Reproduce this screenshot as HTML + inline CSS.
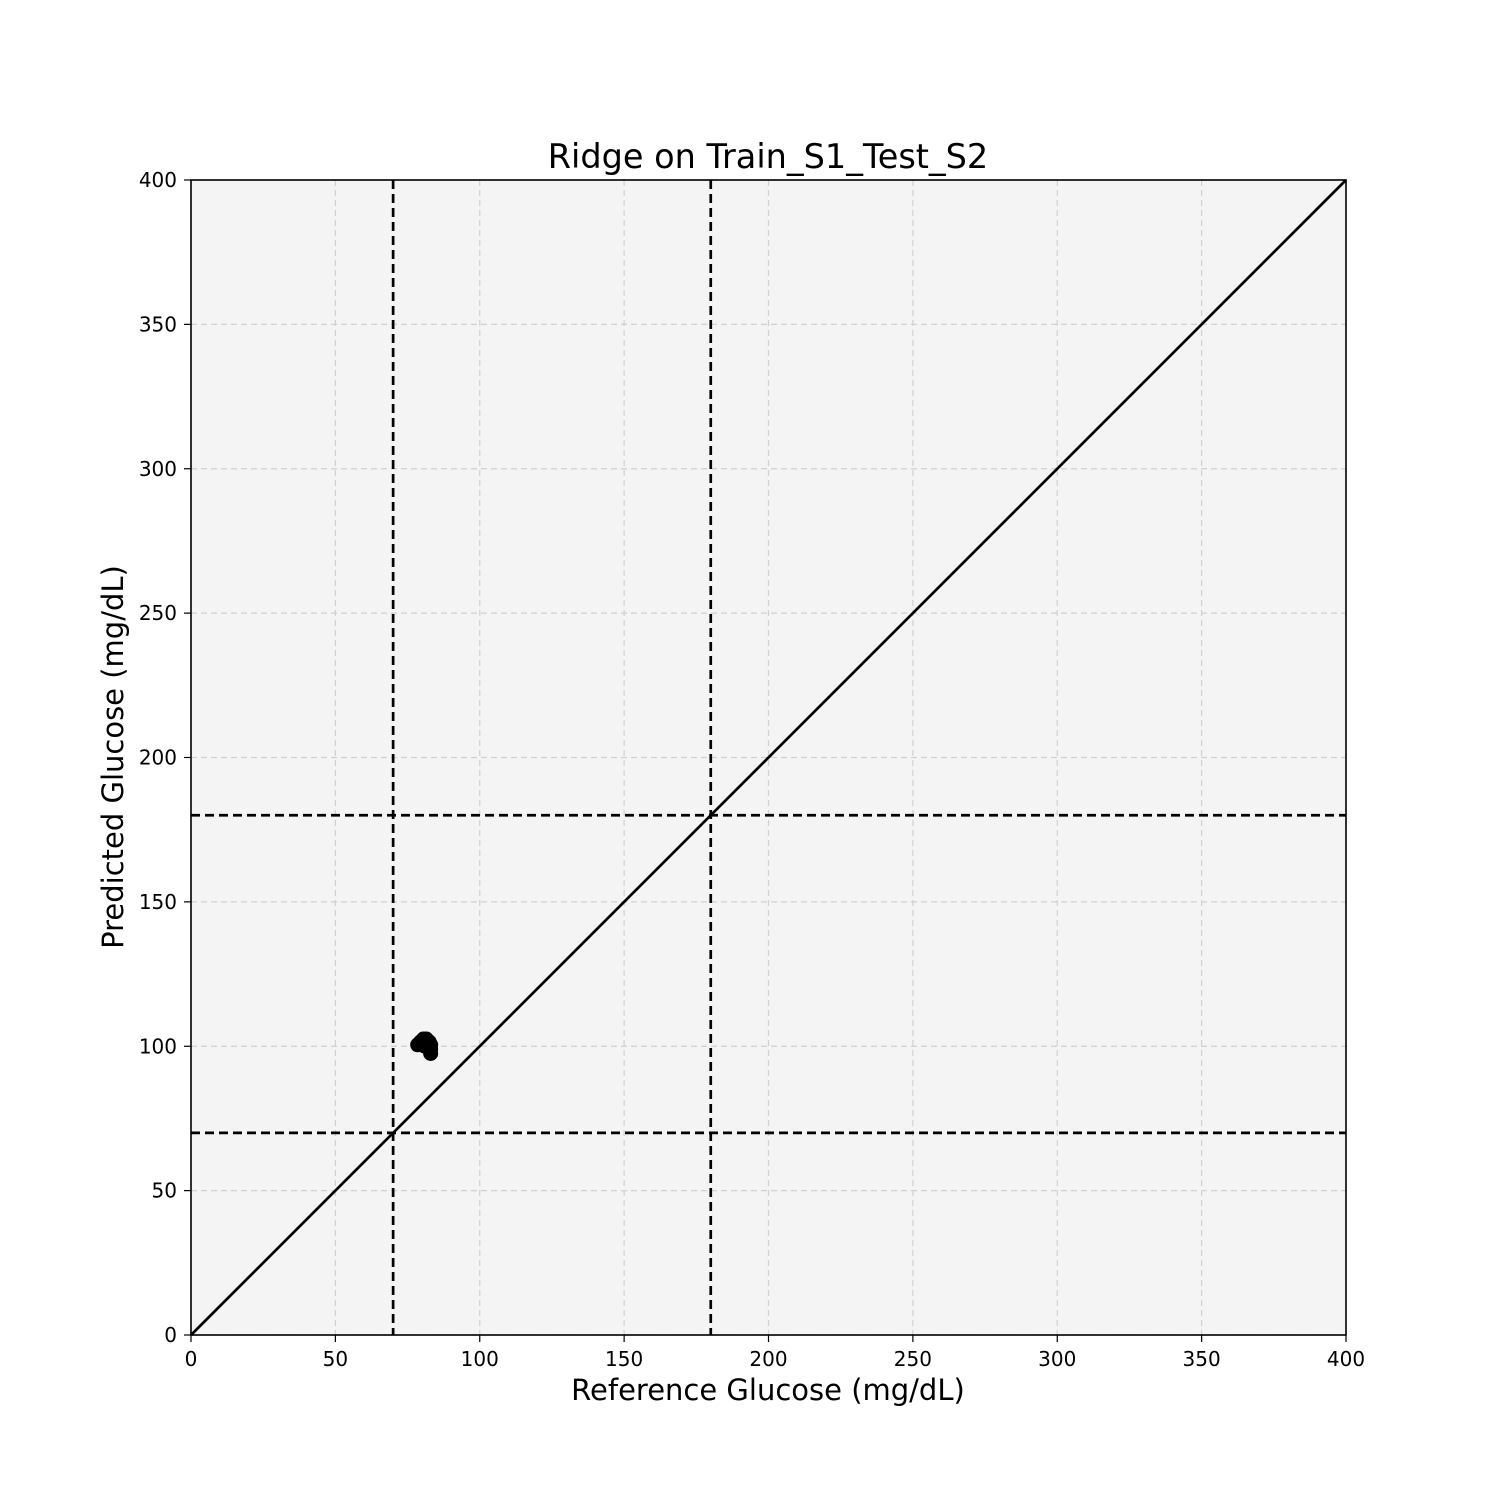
<!DOCTYPE html>
<html><head><meta charset="utf-8"><style>body{margin:0;background:#fff}svg{display:block}text{font-family:"DejaVu Sans","Liberation Sans",sans-serif}</style></head>
<body>
<svg id="chart" width="1500" height="1500" xmlns="http://www.w3.org/2000/svg">
<rect x="0" y="0" width="1500" height="1500" fill="#fff"/>
<rect x="191" y="180" width="1155" height="1155" fill="#f4f4f4"/>
<g id="grid"></g><g id="refs"></g><g id="pts"></g><g id="ticks"></g>
<rect x="191" y="180" width="1155" height="1155" fill="none" stroke="#000" stroke-width="1.6"/>
<text x="768" y="168" font-size="33.5" text-anchor="middle">Ridge on Train_S1_Test_S2</text>
<text x="768" y="1400" font-size="29" text-anchor="middle">Reference Glucose (mg/dL)</text>
<text x="0" y="0" font-size="29" text-anchor="middle" transform="translate(123,757) rotate(-90)">Predicted Glucose (mg/dL)</text>
</svg>
<script>
const xTicks=[0,50,100,150,200,250,300,350,400];
const yTicks=[0,50,100,150,200,250,300,350,400];
const refX=[0,400];
const refY=[0,400];
const zoneX=[70,180];
const zoneY=[70,180];
const ptsX=[78.5,79.5,80.5,81.5,82.5,83,83,83,81,80];
const ptsY=[100.5,101.5,102.5,102.5,101.5,100.5,99,97.5,100,101];
const L=191,T=180,W=1155,H=1155;
const sx=v=>L+v/400*W, sy=v=>T+H-v/400*H;
const NS='http://www.w3.org/2000/svg';
function mk(p,t,a){const e=document.createElementNS(NS,t);for(const k in a)e.setAttribute(k,a[k]);document.getElementById(p).appendChild(e);return e;}
xTicks.forEach(v=>{
 const g=mk('grid','line',{x1:sx(v),x2:sx(v),y1:T,y2:T+H,stroke:'#d0d0d0','stroke-width':1.2,'stroke-dasharray':'6,4'});
 
 
 const t=mk('ticks','line',{x1:sx(v),x2:sx(v),y1:T+H,y2:T+H+7,stroke:'#000','stroke-width':1.2});
 
 
 const l=mk('ticks','text',{x:sx(v),y:T+H+31,'font-size':20,'text-anchor':'middle'});l.textContent=v;
 
 
});
yTicks.forEach(v=>{
 const g=mk('grid','line',{x1:L,x2:L+W,y1:sy(v),y2:sy(v),stroke:'#d0d0d0','stroke-width':1.2,'stroke-dasharray':'6,4'});
 
 
 const t=mk('ticks','line',{x1:L-7,x2:L,y1:sy(v),y2:sy(v),stroke:'#000','stroke-width':1.2});
 
 
 const l=mk('ticks','text',{x:L-14,y:sy(v)+7,'font-size':20,'text-anchor':'end'});l.textContent=v;
 
 
});
const d=mk('refs','line',{x1:sx(refX[0]),y1:sy(refY[0]),x2:sx(refX[1]),y2:sy(refY[1]),stroke:'#000','stroke-width':2.7});


zoneX.forEach(v=>{const e=mk('refs','line',{x1:sx(v),x2:sx(v),y1:T,y2:T+H,stroke:'#000','stroke-width':2.7,'stroke-dasharray':'9,5'});
 
 });
zoneY.forEach(v=>{const e=mk('refs','line',{x1:L,x2:L+W,y1:sy(v),y2:sy(v),stroke:'#000','stroke-width':2.7,'stroke-dasharray':'9,5'});
 
 });
ptsX.forEach((x,i)=>{const c=mk('pts','circle',{cx:sx(x),cy:sy(ptsY[i]),r:7.5,fill:'#000'});
 
 });
</script>
</body></html>
